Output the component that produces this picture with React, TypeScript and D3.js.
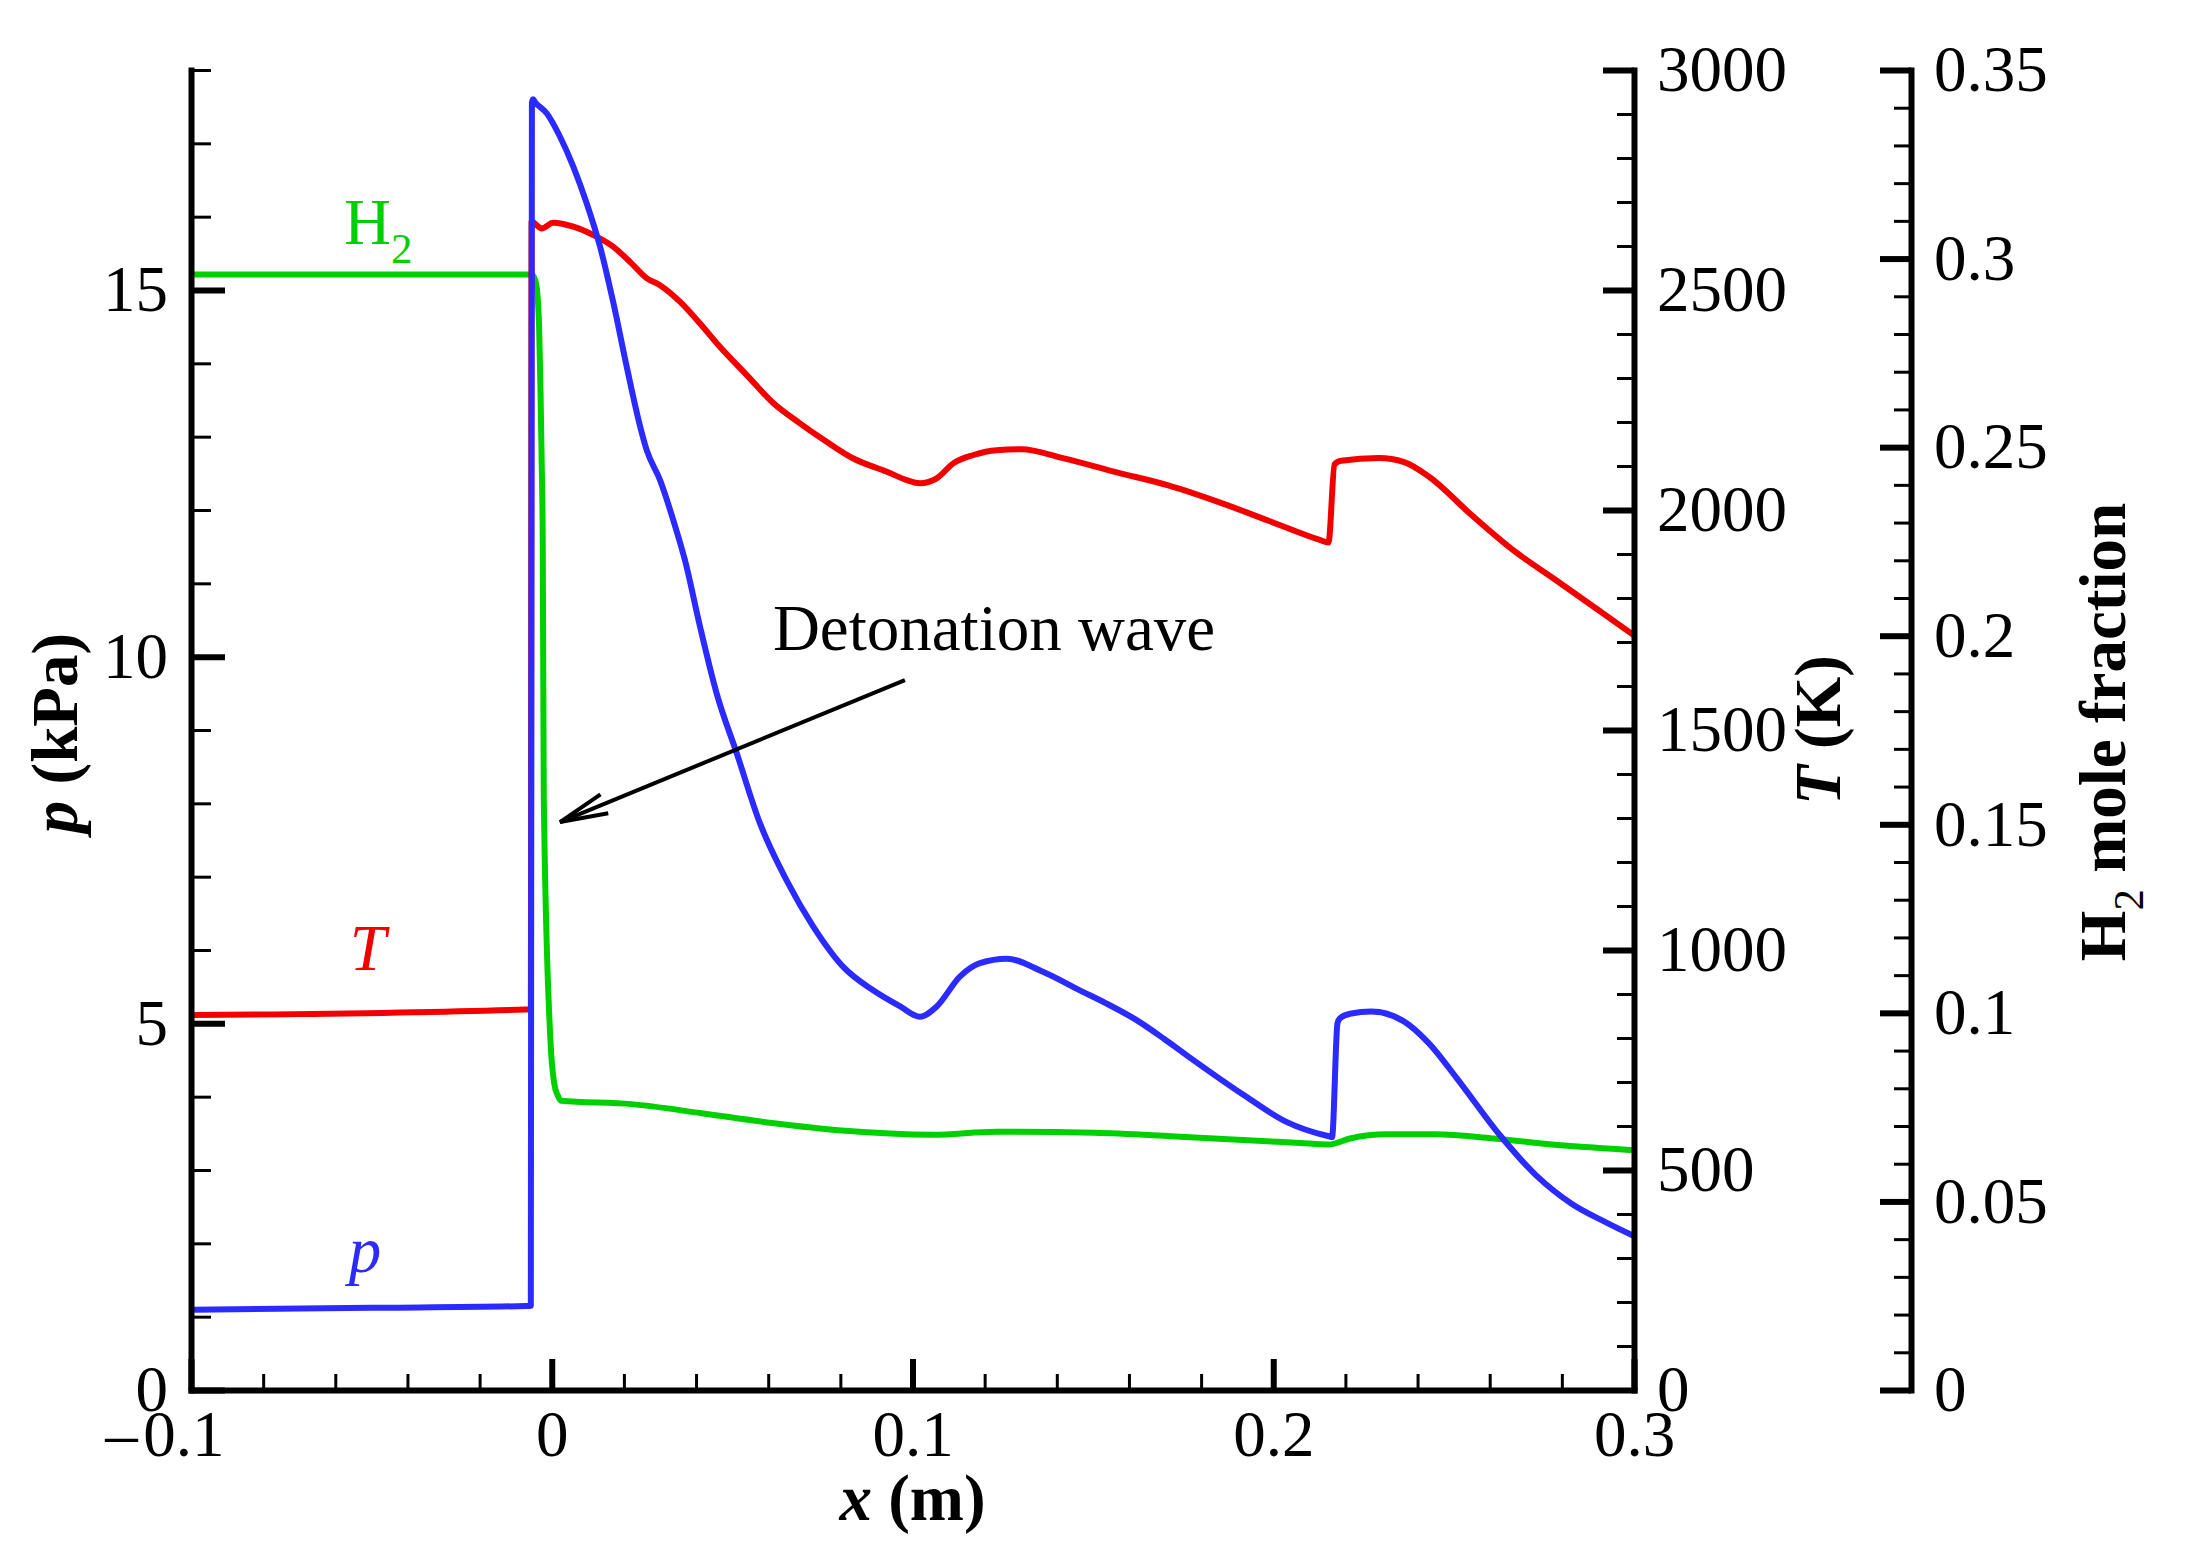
import { useEffect, useRef } from "react"
import * as d3 from "d3"

// axis ticks
const xTicks = [-0.1, 0, 0.1, 0.2, 0.3]
const pTicks = [0, 5, 10, 15]
const tTicks = [0, 500, 1000, 1500, 2000, 2500, 3000]
const h2Ticks = [0, 0.05, 0.1, 0.15, 0.2, 0.25, 0.3, 0.35]
const h2TickLabels = ["0", "0.05", "0.1", "0.15", "0.2", "0.25", "0.3", "0.35"]

// p (kPa) vs x (m)
const pressure: [number, number][] = [
  [-0.1, 1.094], [-0.05, 1.12], [-0.0071, 1.145], [-0.0058, 1.15], [-0.0055, 17.55],
  [-0.0052, 17.6], [-0.0046, 17.56], [-0.0014, 17.41], [0.0023, 17.09], [0.006, 16.68],
  [0.0097, 16.18], [0.0134, 15.59], [0.0171, 14.82], [0.0208, 13.95], [0.0245, 13.14],
  [0.0263, 12.82], [0.03, 12.41], [0.0337, 11.86], [0.0369, 11.32], [0.0411, 10.41],
  [0.0457, 9.5], [0.0513, 8.68], [0.0577, 7.73], [0.0651, 6.95], [0.0725, 6.32],
  [0.0808, 5.77], [0.0891, 5.45], [0.0966, 5.23], [0.1021, 5.09], [0.1067, 5.23],
  [0.1132, 5.64], [0.1187, 5.82], [0.1261, 5.88], [0.1363, 5.7], [0.1464, 5.45],
  [0.1534, 5.28], [0.1619, 5.05], [0.1697, 4.79], [0.1767, 4.54], [0.1916, 4.03],
  [0.2035, 3.66], [0.2154, 3.46], [0.2163, 3.45], [0.2178, 5.0], [0.2185, 5.07],
  [0.2213, 5.13], [0.2272, 5.16], [0.2361, 5.03], [0.2431, 4.73], [0.2509, 4.25],
  [0.2629, 3.47], [0.2728, 2.93], [0.2827, 2.54], [0.2925, 2.28], [0.3, 2.1],
]

// T (K) vs x (m)
const temperature: [number, number][] = [
  [-0.1, 852], [-0.0071, 865], [-0.0058, 866], [-0.0056, 2655], [-0.0028, 2640],
  [0.0004, 2653], [0.006, 2644], [0.0115, 2625], [0.0171, 2598], [0.0217, 2564],
  [0.0263, 2527], [0.03, 2511], [0.0356, 2473], [0.0411, 2424], [0.0466, 2371],
  [0.054, 2307], [0.0614, 2243], [0.0688, 2197], [0.0762, 2155], [0.0836, 2117],
  [0.0929, 2087], [0.0984, 2068], [0.1021, 2061], [0.1067, 2072], [0.1113, 2106],
  [0.1169, 2125], [0.1233, 2136], [0.1301, 2138], [0.1417, 2118], [0.1569, 2085],
  [0.1709, 2056], [0.1849, 2018], [0.1989, 1975], [0.2129, 1932], [0.2153, 1926],
  [0.217, 2104], [0.2188, 2112], [0.2293, 2118], [0.2363, 2109], [0.2433, 2075],
  [0.2549, 1989], [0.2666, 1908], [0.2783, 1841], [0.2899, 1774], [0.3, 1715],
]

// H2 mole fraction vs x (m)
const h2: [number, number][] = [
  [-0.1, 0.2958], [-0.0056, 0.2958], [-0.0046, 0.2943], [-0.004, 0.2908], [-0.0035, 0.2819],
  [-0.0031, 0.2643], [-0.0028, 0.2466], [-0.0025, 0.2254], [-0.0022, 0.1564], [-0.0003, 0.0916],
  [0.0007, 0.0812], [0.0017, 0.078], [0.0026, 0.0767], [0.0221, 0.0758], [0.0415, 0.0734],
  [0.061, 0.0708], [0.0804, 0.0688], [0.1057, 0.0677], [0.1232, 0.0685], [0.1504, 0.0682],
  [0.1718, 0.0673], [0.1916, 0.0663], [0.2074, 0.0655], [0.2154, 0.0651], [0.2213, 0.0667],
  [0.2312, 0.0678], [0.245, 0.0678], [0.2609, 0.0667], [0.2807, 0.0648], [0.3, 0.0636],
]

// annotation: arrow from label to detonation front, in (x, p) units
const arrowFrom: [number, number] = [0.0979, 9.68]
const arrowTo: [number, number] = [0.0023, 7.745]

const W = 2191
const H = 1567
const FONT = "'Liberation Serif', 'Times New Roman', serif"
const BLUE = "#2b2bff"
const RED = "#f20000"
const GREEN = "#00d000"

export default function App() {
  const ref = useRef<SVGSVGElement>(null)

  useEffect(() => {
    if (!ref.current) return
    const svg = d3.select(ref.current)
    svg.selectAll("*").remove()

    const left = 191
    const right = 1634
    const top = 70
    const bottom = 1390
    const h2AxisX = 1911

    const x = d3.scaleLinear().domain([-0.1, 0.3]).range([left, right])
    const yP = d3.scaleLinear().domain([0, 18]).range([bottom, top])
    const yT = d3.scaleLinear().domain([0, 3000]).range([bottom, top])
    const yH = d3.scaleLinear().domain([0, 0.35]).range([bottom, top])

    svg.append("rect").attr("width", W).attr("height", H).attr("fill", "#fff")

    const styleAxis = (g: d3.Selection<SVGGElement, unknown, null, undefined>) => {
      g.attr("font-family", FONT).attr("font-size", 65)
      g.selectAll(".tick line").attr("stroke", "#000")
      g.selectAll(".tick text").attr("fill", "#000")
    }

    // curves
    const drawLine = (data: [number, number][], y: d3.ScaleLinear<number, number>, color: string) => {
      const line = d3
        .line<[number, number]>()
        .x((d) => x(d[0]))
        .y((d) => y(d[1]))
        .curve(d3.curveMonotoneX)
      svg
        .append("path")
        .datum(data)
        .attr("fill", "none")
        .attr("stroke", color)
        .attr("stroke-width", 6)
        .attr("stroke-linejoin", "round")
        .attr("d", line)
    }
    drawLine(h2, yH, GREEN)
    drawLine(temperature, yT, RED)
    drawLine(pressure, yP, BLUE)

    // left axis (p)
    const gL = svg.append("g").attr("transform", `translate(${left},0)`)
    gL.append("g")
      .call(d3.axisLeft(yP).tickValues(d3.range(0, 19, 1)).tickSize(-20).tickSizeOuter(0).tickFormat(() => ""))
      .call((a) => a.select(".domain").remove())
      .call((a) => a.selectAll(".tick line").attr("stroke-width", 3))
    gL.append("g")
      .call(d3.axisLeft(yP).tickValues(pTicks).tickSize(-34).tickSizeOuter(0).tickPadding(23).tickFormat((d) => String(d)))
      .call(styleAxis)
      .call((a) => a.select(".domain").attr("stroke-width", 6).attr("stroke-linecap", "square"))
      .call((a) => a.selectAll(".tick line").attr("stroke-width", 6))

    // bottom axis (x)
    const gB = svg.append("g").attr("transform", `translate(0,${bottom})`)
    gB.append("g")
      .call(d3.axisBottom(x).tickValues(d3.range(-0.1, 0.3001, 0.02)).tickSize(-16).tickSizeOuter(0).tickFormat(() => ""))
      .call((a) => a.select(".domain").remove())
      .call((a) => a.selectAll(".tick line").attr("stroke-width", 3))
    gB.append("g")
      .call(
        d3
          .axisBottom(x)
          .tickValues(xTicks)
          .tickSize(-31)
          .tickSizeOuter(0)
          .tickPadding(20)
          .tickFormat((d) => (+d < 0 ? "\u2013\u200A" + String(-d) : String(d)))
      )
      .call(styleAxis)
      .call((a) => a.select(".domain").attr("stroke-width", 6).attr("stroke-linecap", "square"))
      .call((a) => a.selectAll(".tick line").attr("stroke-width", 6))
      .call((a) =>
        a
          .selectAll<SVGTextElement, number>(".tick text")
          .filter((d) => d < 0)
          .attr("text-anchor", "end")
          .attr("x", 33)
      )

    // T axis (right of plot)
    const gT = svg.append("g").attr("transform", `translate(${right},0)`)
    gT.append("g")
      .call(d3.axisRight(yT).tickValues(d3.range(0, 3001, 100)).tickSize(-17).tickSizeOuter(0).tickFormat(() => ""))
      .call((a) => a.select(".domain").remove())
      .call((a) => a.selectAll(".tick line").attr("stroke-width", 3))
    gT.append("g")
      .call(d3.axisRight(yT).tickValues(tTicks.slice(1)).tickSize(-31).tickSizeOuter(0).tickPadding(23).tickFormat((d) => String(d)))
      .call(styleAxis)
      .call((a) => a.select(".domain").attr("stroke-width", 6).attr("stroke-linecap", "square"))
      .call((a) => a.selectAll(".tick line").attr("stroke-width", 6))
    gT.append("text")
      .attr("x", 23)
      .attr("y", yT(tTicks[0]))
      .attr("dy", "0.32em")
      .attr("font-family", FONT)
      .attr("font-size", 65)
      .text(String(tTicks[0]))

    // H2 axis
    const gH = svg.append("g").attr("transform", `translate(${h2AxisX},0)`)
    gH.append("g")
      .call(d3.axisRight(yH).tickValues(d3.range(0, 36, 1).map((i) => i / 100)).tickSize(-17).tickSizeOuter(0).tickFormat(() => ""))
      .call((a) => a.select(".domain").remove())
      .call((a) => a.selectAll(".tick line").attr("stroke-width", 3))
    gH.append("g")
      .call(
        d3
          .axisRight(yH)
          .tickValues(h2Ticks)
          .tickSize(-31)
          .tickSizeOuter(0)
          .tickPadding(23)
          .tickFormat((_, i) => h2TickLabels[i])
      )
      .call(styleAxis)
      .call((a) => a.select(".domain").attr("stroke-width", 6).attr("stroke-linecap", "square"))
      .call((a) => a.selectAll(".tick line").attr("stroke-width", 6))

    // axis titles
    const xt = svg
      .append("text")
      .attr("x", (left + right) / 2)
      .attr("y", 1520)
      .attr("text-anchor", "middle")
      .attr("font-family", FONT)
      .attr("font-size", 65)
      .attr("font-weight", "bold")
    xt.append("tspan").attr("font-style", "italic").text("x")
    xt.append("tspan").text(" (m)")

    const pt = svg
      .append("text")
      .attr("transform", `translate(77,${(top + bottom) / 2 + 3}) rotate(-90)`)
      .attr("text-anchor", "middle")
      .attr("font-family", FONT)
      .attr("font-size", 65)
      .attr("font-weight", "bold")
    pt.append("tspan").attr("font-style", "italic").text("p")
    pt.append("tspan").text(" (kPa)")

    const tt = svg
      .append("text")
      .attr("transform", `translate(1840,${(top + bottom) / 2}) rotate(-90)`)
      .attr("text-anchor", "middle")
      .attr("font-family", FONT)
      .attr("font-size", 65)
      .attr("font-weight", "bold")
    tt.append("tspan").attr("font-style", "italic").text("T")
    tt.append("tspan").text(" (K)")

    const ht = svg
      .append("text")
      .attr("transform", `translate(2125,${(top + bottom) / 2 + 2}) rotate(-90)`)
      .attr("text-anchor", "middle")
      .attr("font-family", FONT)
      .attr("font-size", 65)
      .attr("font-weight", "bold")
    ht.append("tspan").text("H")
    ht.append("tspan").attr("font-size", 43).attr("font-weight", "normal").attr("dy", 18).text("2")
    ht.append("tspan").attr("dy", -18).text(" mole fraction")

    // curve labels
    const h2Label = svg
      .append("text")
      .attr("x", x(-0.0576))
      .attr("y", yH(0.3039))
      .attr("font-family", FONT)
      .attr("font-size", 65)
      .attr("fill", GREEN)
    h2Label.append("tspan").text("H")
    h2Label.append("tspan").attr("font-size", 43).attr("dy", 19).text("2")

    svg
      .append("text")
      .attr("x", x(-0.051))
      .attr("y", yP(5.73))
      .attr("text-anchor", "middle")
      .attr("font-family", FONT)
      .attr("font-size", 65)
      .attr("font-style", "italic")
      .attr("fill", RED)
      .text("T")

    svg
      .append("text")
      .attr("x", x(-0.0518))
      .attr("y", yP(1.61))
      .attr("text-anchor", "middle")
      .attr("font-family", FONT)
      .attr("font-size", 65)
      .attr("font-style", "italic")
      .attr("fill", BLUE)
      .text("p")

    // annotation
    svg
      .append("text")
      .attr("x", x(0.0613))
      .attr("y", yP(10.09))
      .attr("font-family", FONT)
      .attr("font-size", 65)
      .text("Detonation wave")

    const [fx, fy] = [x(arrowFrom[0]), yP(arrowFrom[1])]
    const [tx, ty] = [x(arrowTo[0]), yP(arrowTo[1])]
    svg
      .append("line")
      .attr("x1", fx)
      .attr("y1", fy)
      .attr("x2", tx)
      .attr("y2", ty)
      .attr("stroke", "#000")
      .attr("stroke-width", 4)
    const ang = Math.atan2(fy - ty, fx - tx)
    const head = 49
    const spread = (12 * Math.PI) / 180
    const headPts = [ang - spread, ang + spread].map((a) => [tx + head * Math.cos(a), ty + head * Math.sin(a)])
    svg
      .append("path")
      .attr(
        "d",
        `M${headPts[0][0]},${headPts[0][1]}L${tx},${ty}L${headPts[1][0]},${headPts[1][1]}`
      )
      .attr("fill", "none")
      .attr("stroke", "#000")
      .attr("stroke-width", 4)
      .attr("stroke-linejoin", "miter")
  }, [])

  return (
    <svg
      ref={ref}
      width={W}
      height={H}
      style={{ position: "absolute", left: 0, top: 0, display: "block", background: "#fff" }}
    />
  )
}
